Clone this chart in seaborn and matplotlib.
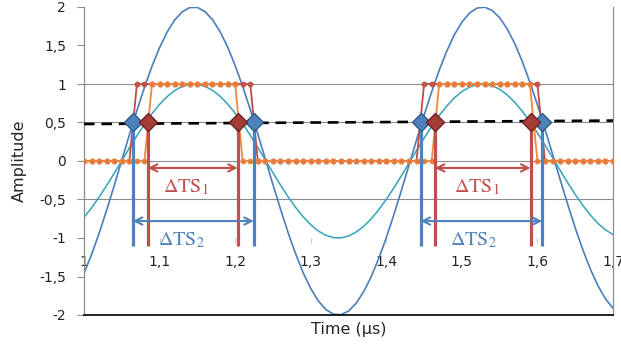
import matplotlib
matplotlib.use("Agg")
from matplotlib import pyplot as plt
import seaborn as sns

# sample times (µs)
time_us = [
    1.00, 1.01, 1.02, 1.03, 1.04, 1.05, 1.06, 1.07, 1.08, 1.09,
    1.10, 1.11, 1.12, 1.13, 1.14, 1.15, 1.16, 1.17, 1.18, 1.19,
    1.20, 1.21, 1.22, 1.23, 1.24, 1.25, 1.26, 1.27, 1.28, 1.29,
    1.30, 1.31, 1.32, 1.33, 1.34, 1.35, 1.36, 1.37, 1.38, 1.39,
    1.40, 1.41, 1.42, 1.43, 1.44, 1.45, 1.46, 1.47, 1.48, 1.49,
    1.50, 1.51, 1.52, 1.53, 1.54, 1.55, 1.56, 1.57, 1.58, 1.59,
    1.60, 1.61, 1.62, 1.63, 1.64, 1.65, 1.66, 1.67, 1.68, 1.69,
    1.70,
]

# large-amplitude signal (blue)
signal_big = [
    -1.459, -1.215, -0.939, -0.637, -0.318, 0.010, 0.337, 0.655, 0.956, 1.231,
    1.472, 1.674, 1.831, 1.938, 1.993, 1.994, 1.941, 1.836, 1.681, 1.481,
    1.241, 0.968, 0.668, 0.350, 0.023, -0.305, -0.624, -0.927, -1.204, -1.450,
    -1.656, -1.817, -1.929, -1.990, -1.996, -1.949, -1.849, -1.699, -1.503, -1.267,
    -0.996, -0.699, -0.383, -0.056, 0.272, 0.593, 0.897, 1.178, 1.427, 1.637,
    1.803, 1.920, 1.986, 1.998, 1.956, 1.861, 1.716, 1.525, 1.292, 1.024,
    0.730, 0.415, 0.089, -0.239, -0.561, -0.868, -1.151, -1.404, -1.618, -1.789,
    -1.911,
]

# small-amplitude signal (teal)
signal_small = [
    -0.730, -0.608, -0.469, -0.318, -0.159, 0.005, 0.168, 0.328, 0.478, 0.615,
    0.736, 0.837, 0.915, 0.969, 0.996, 0.997, 0.971, 0.918, 0.841, 0.741,
    0.621, 0.484, 0.334, 0.175, 0.012, -0.152, -0.312, -0.464, -0.602, -0.725,
    -0.828, -0.909, -0.965, -0.995, -0.998, -0.974, -0.924, -0.849, -0.752, -0.633,
    -0.498, -0.350, -0.191, -0.028, 0.136, 0.296, 0.449, 0.589, 0.713, 0.819,
    0.902, 0.960, 0.993, 0.999, 0.978, 0.931, 0.858, 0.762, 0.646, 0.512,
    0.365, 0.208, 0.045, -0.120, -0.281, -0.434, -0.576, -0.702, -0.809, -0.894,
    -0.956,
]

# comparator outputs (big signal -> red, small signal -> orange)
digital_big = [
    0, 0, 0, 0, 0, 0, 0, 1, 1, 1,
    1, 1, 1, 1, 1, 1, 1, 1, 1, 1,
    1, 1, 1, 0, 0, 0, 0, 0, 0, 0,
    0, 0, 0, 0, 0, 0, 0, 0, 0, 0,
    0, 0, 0, 0, 0, 1, 1, 1, 1, 1,
    1, 1, 1, 1, 1, 1, 1, 1, 1, 1,
    1, 0, 0, 0, 0, 0, 0, 0, 0, 0,
    0,
]
digital_small = [
    0, 0, 0, 0, 0, 0, 0, 0, 0, 1,
    1, 1, 1, 1, 1, 1, 1, 1, 1, 1,
    1, 0, 0, 0, 0, 0, 0, 0, 0, 0,
    0, 0, 0, 0, 0, 0, 0, 0, 0, 0,
    0, 0, 0, 0, 0, 0, 0, 1, 1, 1,
    1, 1, 1, 1, 1, 1, 1, 1, 1, 1,
    0, 0, 0, 0, 0, 0, 0, 0, 0, 0,
    0,
]

# threshold (trend line) end points
threshold_x = [1.0, 1.7]
threshold_y = [0.48, 0.525]

# threshold crossings
cross_big_x = [1.0646, 1.2247, 1.4454, 1.6062]
cross_small_x = [1.0845, 1.2035, 1.4643, 1.5909]
cross_y = [0.5, 0.5, 0.5, 0.5]
marker_bottom = -1.1

# delta annotations
dts1_y = -0.09
dts2_y = -0.78
dts1_label_x = [1.104, 1.490]
dts2_label_x = [1.098, 1.484]
dts1_label_y = -0.41
dts2_label_y = -1.10

ytick_values = [2, 1.5, 1, 0.5, 0, -0.5, -1, -1.5, -2]
ytick_labels = ["2", "1,5", "1", "0,5", "0", "-0,5", "-1", "-1,5", "-2"]
xtick_values = [1.0, 1.1, 1.2, 1.3, 1.4, 1.5, 1.6, 1.7]
xtick_labels = ["1", "1,1", "1,2", "1,3", "1,4", "1,5", "1,6", "1,7"]
grid_levels = [1, 0.5, 0, -0.5]

BLUE = "#4A7EBB"
TEAL = "#33A3BA"
RED = "#BE4B48"
ORANGE = "#F0883E"
GRAY = "#8C8C8C"

sns.set_style("white")
plt.rcParams["font.family"] = ["DejaVu Sans"]
plt.rcParams["mathtext.fontset"] = "stix"

fig = plt.figure(figsize=(6.21, 3.45), dpi=100)
ax = fig.add_axes([84 / 621, 1 - 315 / 345, (613 - 84) / 621, (315 - 7) / 345])

for lvl in grid_levels:
    ax.axhline(lvl, color=GRAY, lw=0.8, zorder=0)

sns.lineplot(x=time_us, y=signal_big, color=BLUE, lw=1.2, ax=ax, zorder=2)
sns.lineplot(x=time_us, y=signal_small, color=TEAL, lw=1.1, ax=ax, zorder=2)
sns.lineplot(x=time_us, y=digital_big, color=RED, lw=1.3, marker="o", ms=3.4,
             mec=RED, mfc="#C8553F", ax=ax, zorder=3)
sns.lineplot(x=time_us, y=digital_small, color=ORANGE, lw=1.3, marker="o", ms=3.4,
             mec=ORANGE, mfc="#E07A3C", ax=ax, zorder=3)

ax.plot(threshold_x, threshold_y, color="black", lw=1.9, ls=(0, (4, 2.6)), zorder=4)

ax.vlines(cross_big_x, marker_bottom, cross_y, color="#4F81BD", lw=2.3, zorder=5)
ax.vlines(cross_small_x, marker_bottom, cross_y, color="#C0504D", lw=2.3, zorder=5)

sns.scatterplot(x=cross_big_x, y=cross_y, marker="D", s=85, color="#4F81BD",
                edgecolor="#2F5A8C", linewidth=1.0, ax=ax, zorder=6)
sns.scatterplot(x=cross_small_x, y=cross_y, marker="D", s=85, color="#A33B37",
                edgecolor="#6E2321", linewidth=1.0, ax=ax, zorder=6)

for i in range(0, len(cross_small_x), 2):
    ax.annotate("", xy=(cross_small_x[i + 1], dts1_y), xytext=(cross_small_x[i], dts1_y),
                arrowprops=dict(arrowstyle="<->", color="#C0504D", lw=1.5,
                                shrinkA=0, shrinkB=0, mutation_scale=13), zorder=5)
    ax.annotate("", xy=(cross_big_x[i + 1], dts2_y), xytext=(cross_big_x[i], dts2_y),
                arrowprops=dict(arrowstyle="<->", color="#4F81BD", lw=1.5,
                                shrinkA=0, shrinkB=0, mutation_scale=13), zorder=5)

for lx in dts1_label_x:
    ax.text(lx, dts1_label_y, r"$\mathit{\Delta}\mathrm{TS}_{1}$", color="#C0504D",
            fontsize=14.5, ha="left", va="baseline", zorder=7)
for lx in dts2_label_x:
    ax.text(lx, dts2_label_y, r"$\mathit{\Delta}\mathrm{TS}_{2}$", color="#4F81BD",
            fontsize=14.5, ha="left", va="baseline", zorder=7)

ax.set_xlim(1.0, 1.7)
ax.set_ylim(-2, 2)

ax.set_yticks(ytick_values)
ax.set_yticklabels(ytick_labels)
ax.tick_params(axis="y", left=True, direction="out", length=5, width=0.8, color=GRAY,
               labelsize=10, pad=8, labelcolor="#222222")
ax.set_xticks([])
ax.set_ylabel("Amplitude", fontsize=11.5, labelpad=9)
ax.set_xlabel("Time (µs)", fontsize=11.5, labelpad=5)

# horizontal axis crossing at y = -1
sec = ax.secondary_xaxis(-1, transform=ax.transData)
sec.set_xticks(xtick_values)
sec.set_xticklabels(xtick_labels)
sec.spines["bottom"].set_visible(False)
sec.tick_params(axis="x", direction="out", length=3.5, width=0.8, color="#C8C8C8",
                labelsize=10, pad=9, labelcolor="#222222")

ax.spines["top"].set_visible(False)
ax.spines["left"].set_color(GRAY)
ax.spines["right"].set_color(GRAY)
ax.spines["left"].set_linewidth(0.9)
ax.spines["right"].set_linewidth(0.9)
ax.spines["bottom"].set_color("black")
ax.spines["bottom"].set_linewidth(1.2)

fig.savefig("out.png", dpi=100)
